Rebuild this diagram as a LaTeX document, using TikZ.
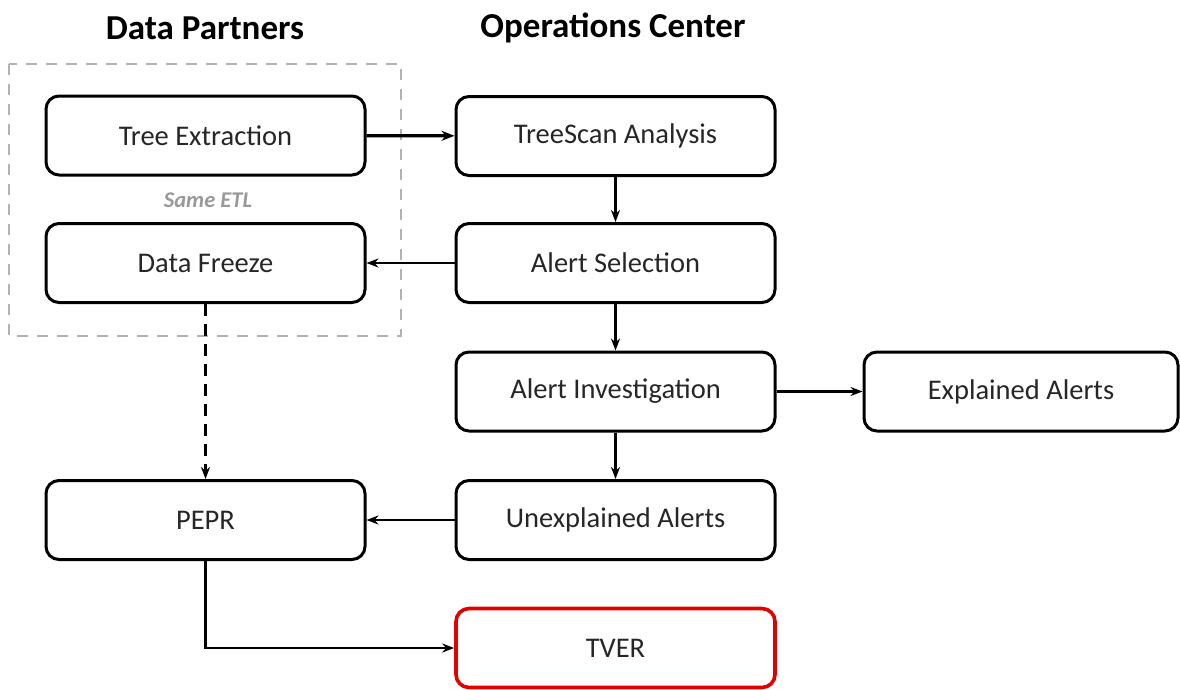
\documentclass[tikz,border=0pt]{standalone}
\usepackage{fontspec}
\setmainfont{Carlito}
\usetikzlibrary{arrows.meta}
\begin{document}
\begin{tikzpicture}[x=1pt,y=-1pt,
  box/.style={draw=black, line width=3pt, rounded corners=13pt, fill=white,
    minimum width=319pt, minimum height=79pt, inner sep=0pt,
    font=\fontsize{28.5}{32}\selectfont, text=black!85},
  redbox/.style={box, draw=red!90!black, line width=3.6pt},
  title/.style={font=\bfseries\fontsize{35}{40}\selectfont},
  conn/.style={line width=2.4pt, -{Stealth[length=12pt,width=9pt]}},
  thick conn/.style={line width=3.4pt, -{Stealth[length=13pt,width=10pt]}},
  group/.style={draw=black!30, line width=2.6pt, dash pattern=on 11pt off 9pt}
]
\useasboundingbox (0,0) rectangle (1180,689);
\draw[group] (9,64) rectangle (401,336);

\node[title] (tdp) at (205,28) {Data Partners};
\node[title] (toc) at (613,28) {Operations Center};

\node[box] (te) at (205.5,135.5) {Tree Extraction};
\node[box] (df) at (205.5,263) {Data Freeze};
\node[box] (pepr) at (205.5,520) {PEPR};
\node[box] (ts) at (615.5,136) {TreeScan Analysis};
\node[box] (as) at (615.5,263) {Alert Selection};
\node[box] (ai) at (615.5,391.5) {Alert Investigation};
\node[box] (ua) at (615.5,520) {Unexplained Alerts};
\node[box, minimum width=314pt] (ea) at (1021,391.5) {Explained Alerts};
\node[redbox] (tver) at (615.5,648) {TVER};

\node[font=\bfseries\itshape\fontsize{22.5}{26}\selectfont, text=black!40] (etl) at (208,200) {Same ETL};

\draw[thick conn] (te) -- (ts);
\draw[conn] (ts) -- (as);
\draw[conn] (as) -- (df);
\draw[conn] (as) -- (ai);
\draw[conn] (ai) -- (ea);
\draw[conn] (ai) -- (ua);
\draw[conn] (ua) -- (pepr);
\draw[conn, dash pattern=on 12pt off 8pt] (df) -- (pepr);
\draw[conn] (pepr.south) |- (tver.west);
\end{tikzpicture}
\end{document}
